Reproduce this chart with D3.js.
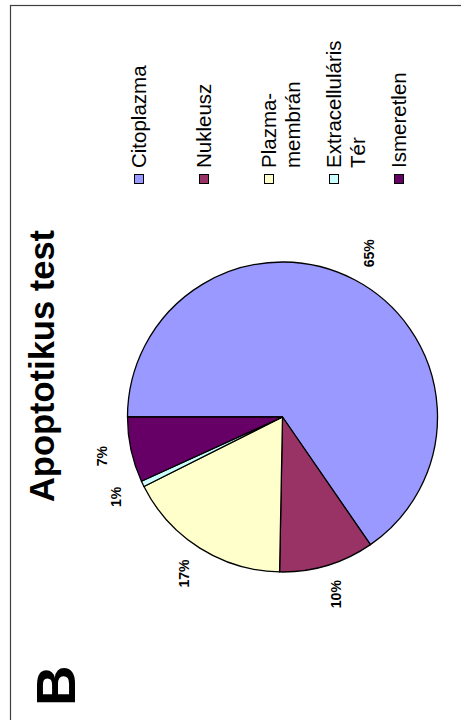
<!DOCTYPE html>
<html>
<head>
<meta charset="utf-8">
<script src="https://cdn.jsdelivr.net/npm/d3@7"></script>
<style>
  html, body { margin: 0; padding: 0; background: #fff; }
  svg { display: block; font-family: "Liberation Sans", Arial, sans-serif; }
</style>
</head>
<body>
<svg id="chart" width="461" height="720"></svg>
<script>
// ---- data ----
const categories = ["Citoplazma", "Nukleusz", "Plazmamembrán", "Extracelluláris Tér", "Ismeretlen"];
const legendLines = [["Citoplazma"], ["Nukleusz"], ["Plazma-", "membrán"], ["Extracelluláris", "Tér"], ["Ismeretlen"]];
const values = [65.4, 9.9, 17.3, 0.6, 6.8];
const colors = ["#9999FF", "#993366", "#FFFFCC", "#CCFFFF", "#660066"];
const title = "Apoptotikus test";
const panelLetter = "B";

// ---- layout (chart is drawn rotated -90deg) ----
const W = 461, H = 720;
const svg = d3.select("#chart");

// frame drawn in screen coordinates
svg.append("rect")
  .attr("x", 10.5).attr("y", 5.5)
  .attr("width", 480).attr("height", 740)
  .attr("fill", "none").attr("stroke", "#404040").attr("stroke-width", 1.2);

// rotated group: local (u,v) -> screen (v, H-u)
const g = svg.append("g").attr("transform", `translate(0,${H}) rotate(-90)`);

const cx = 303, cy = 282.5, R = 155;

const pie = d3.pie().sort(null).value(d => d)(values);
const arc = d3.arc().innerRadius(0).outerRadius(R);
const labelArc = d3.arc().innerRadius(R + 30).outerRadius(R + 30);

const pieG = g.append("g").attr("transform", `translate(${cx},${cy})`);
pieG.selectAll("path.slice")
  .data(pie)
  .join("path")
  .attr("class", "slice")
  .attr("d", arc)
  .attr("fill", (d, i) => colors[i])
  .attr("stroke", "#000")
  .attr("stroke-width", 1.3)
  .attr("stroke-linejoin", "round");

const total = d3.sum(values);
pieG.selectAll("text.pct")
  .data(pie)
  .join("text")
  .attr("class", "pct")
  .attr("transform", d => `translate(${labelArc.centroid(d)})`)
  .attr("text-anchor", "middle")
  .attr("dominant-baseline", "central")
  .attr("font-size", 14)
  .attr("font-weight", "bold")
  .attr("fill", "#000")
  .text(d => Math.round(d.value / total * 100) + "%");

// title
g.append("text")
  .attr("x", 354).attr("y", 54)
  .attr("text-anchor", "middle")
  .attr("font-size", 34.5)
  .attr("font-weight", "bold")
  .text(title);

// panel letter
g.append("text")
  .attr("x", 14).attr("y", 75)
  .attr("font-size", 56)
  .attr("font-weight", "bold")
  .text(panelLetter);

// legend
const legY = d3.scalePoint().domain(categories).range([139, 399]);
const legend = g.append("g");
const items = legend.selectAll("g.item")
  .data(categories)
  .join("g")
  .attr("class", "item")
  .attr("transform", d => `translate(536,${legY(d)})`);

items.append("rect")
  .attr("x", 0.5).attr("y", -4.5)
  .attr("width", 9).attr("height", 9)
  .attr("fill", (d, i) => colors[i])
  .attr("stroke", "#000").attr("stroke-width", 1);

items.append("text")
  .attr("x", 16).attr("y", 6.5)
  .attr("font-size", 20.5)
  .attr("fill", "#000")
  .each(function(d, i) {
    const t = d3.select(this);
    legendLines[i].forEach((line, j) => {
      t.append("tspan").attr("x", 16).attr("dy", j === 0 ? 0 : 24).text(line);
    });
  });
</script>
</body>
</html>
